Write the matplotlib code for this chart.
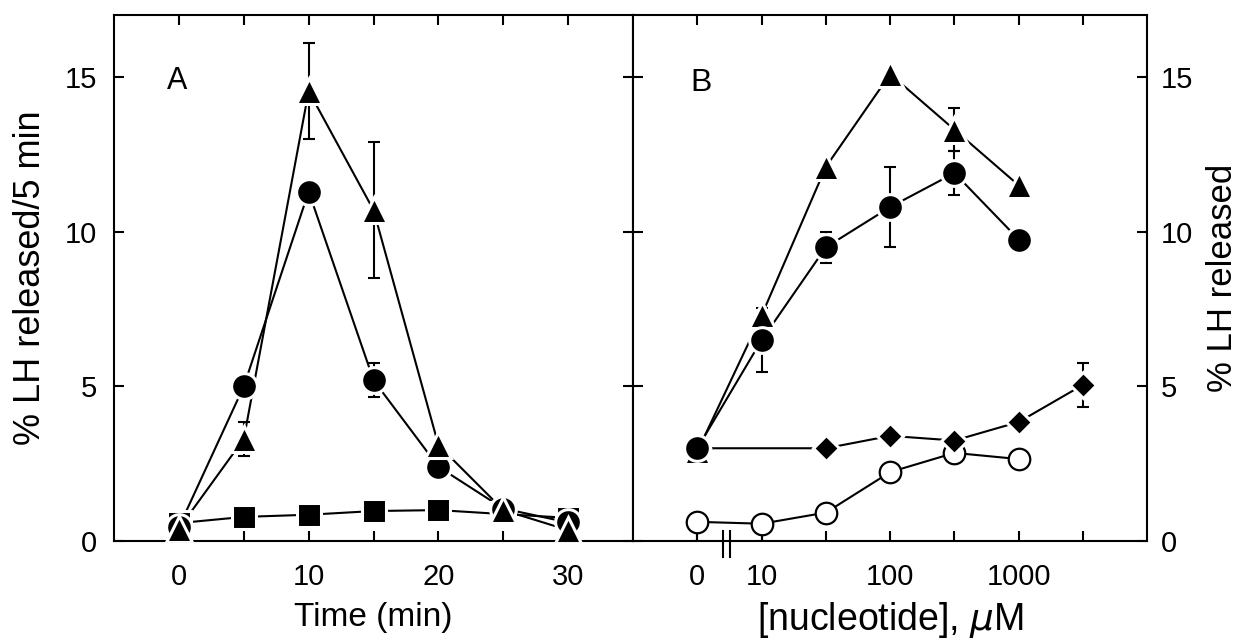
import matplotlib
matplotlib.use("Agg")
import matplotlib.pyplot as plt

plt.rcParams['font.family'] = ['Liberation Sans', 'DejaVu Sans']
plt.rcParams['mathtext.fontset'] = 'dejavusans'

# ----------------------------------------------
#     Panel A: LH release over time
# ----------------------------------------------
time_min = [0, 5, 10, 15, 20, 25, 30]
tri_a = [0.4, 3.3, 14.55, 10.7, 3.1, 1.0, 0.35]
tri_a_err = [0, 0.55, 1.55, 2.2, 0, 0, 0]
circ_a = [0.45, 5.0, 11.3, 5.2, 2.4, 1.05, 0.6]
circ_a_err = [0, 0, 0, 0.55, 0, 0, 0]
sq_a = [0.58, 0.78, 0.85, 0.97, 1.0, 0.87, 0.75]

# ----------------------------------------------
#     Panel B: LH release vs nucleotide dose
# ----------------------------------------------
ZERO_POS = 10 ** 0.5   # zero dose drawn half a decade left of 10 uM

conc_tri = [0, 10, 31.6, 100, 316, 1000]
tri_b = [2.9, 7.3, 12.1, 15.1, 13.3, 11.5]
tri_b_err = [0, 0, 0, 0, 0.7, 0]

conc_circ = [0, 10, 31.6, 100, 316, 1000]
circ_b = [3.0, 6.5, 9.5, 10.8, 11.9, 9.75]
circ_b_err = [0, 1.05, 0.5, 1.3, 0.7, 0]

conc_diam = [0, 31.6, 100, 316, 1000, 3160]
diam_b = [3.0, 3.0, 3.4, 3.25, 3.85, 5.05]
diam_b_err = [0, 0, 0, 0, 0, 0.7]

conc_open = [0, 10, 31.6, 100, 316, 1000]
open_b = [0.62, 0.56, 0.92, 2.23, 2.85, 2.65]
open_b_err_low = [0.62, 0.56, 0, 0, 0, 0]

b_ticks = [ZERO_POS, 10, 31.6, 100, 316, 1000, 3160]
b_ticklabels = ['0', '10', '', '100', '', '1000', '']

LW = 1.5
TICK_FS = 21


def xpos(conc):
    return [ZERO_POS if c == 0 else c for c in conc]


def series(ax, x, y, marker, ms, err=None, open_marker=False):
    """Line, error bars, then marker with a white halo so lines stop short."""
    ax.plot(x, y, '-', color='black', lw=LW, zorder=2)
    if err is not None:
        ax.errorbar(x, y, yerr=err, fmt='none', ecolor='black', elinewidth=LW,
                    capsize=4, capthick=LW, zorder=2.5)
    if open_marker:
        ax.plot(x, y, marker, ls='none', ms=ms, mfc='white', mec='black',
                mew=1.6, zorder=3)
    else:
        ax.plot(x, y, marker, ls='none', ms=ms, mfc='black', mec='white',
                mew=2.2, zorder=3)


def style_axes(ax):
    for s in ax.spines.values():
        s.set_linewidth(LW)
    ax.tick_params(which='both', direction='in', length=7, width=LW,
                   top=True, bottom=True, left=True, right=True,
                   labelsize=TICK_FS)
    ax.set_ylim(0, 17)
    ax.set_yticks([0, 5, 10, 15])


fig = plt.figure(figsize=(12.39, 6.38), dpi=100)
ax_a = fig.add_axes([0.092, 0.152, 0.419, 0.824])
ax_b = fig.add_axes([0.511, 0.152, 0.415, 0.824])

# --- panel A ---
style_axes(ax_a)
series(ax_a, time_min, sq_a, 's', 17.5)
series(ax_a, time_min, circ_a, 'o', 18.5, err=circ_a_err)
series(ax_a, time_min, tri_a, '^', 18.5, err=tri_a_err)
ax_a.set_xlim(-5, 35)
ax_a.set_xticks([0, 5, 10, 15, 20, 25, 30])
ax_a.set_xticklabels(['0', '', '10', '', '20', '', '30'])
ax_a.tick_params(axis='x', pad=16)
ax_a.tick_params(axis='y', pad=12, labelright=False)
ax_a.set_xlabel('Time (min)', fontsize=24, labelpad=8)
ax_a.set_ylabel('% LH released/5 min', fontsize=26, labelpad=12)
ax_a.text(0.102, 0.86, 'A', transform=ax_a.transAxes, fontsize=22)

# --- panel B ---
style_axes(ax_b)
ax_b.set_xscale('log')
series(ax_b, xpos(conc_open), open_b, 'o', 15.5,
       err=[open_b_err_low, [0] * len(open_b)], open_marker=True)
series(ax_b, xpos(conc_diam), diam_b, 'D', 13.5, err=diam_b_err)
series(ax_b, xpos(conc_tri), tri_b, '^', 18.5, err=tri_b_err)
series(ax_b, xpos(conc_circ), circ_b, 'o', 18.5, err=circ_b_err)
ax_b.set_xlim(1, 10000)
ax_b.set_xticks(b_ticks)
ax_b.set_xticklabels(b_ticklabels)
ax_b.minorticks_off()
ax_b.tick_params(axis='x', pad=16)
ax_b.tick_params(axis='y', pad=10, labelleft=False, labelright=True)
ax_b.yaxis.set_label_position('right')
ax_b.set_ylabel('% LH released', fontsize=25, labelpad=9)
ax_b.set_xlabel(r'[nucleotide], $\mu$M', fontsize=27, labelpad=6)
ax_b.text(0.111, 0.856, 'B', transform=ax_b.transAxes, fontsize=23)

# axis break between the zero dose and 10 uM
brk = ax_b.get_xaxis_transform()
for bx in (5.0, 5.7):
    ax_b.plot([bx, bx], [-0.03, 0.02], color='black', lw=LW,
              transform=brk, clip_on=False, zorder=4)

fig.savefig('out.png', dpi=100)
